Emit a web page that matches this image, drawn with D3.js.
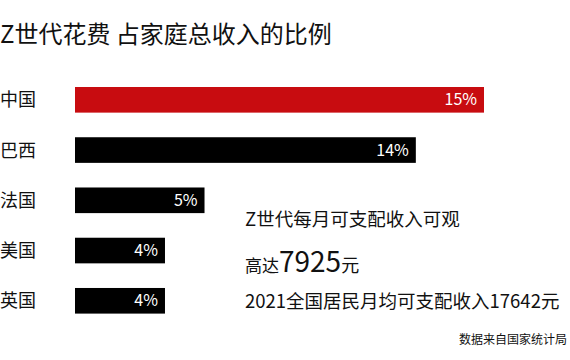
<!DOCTYPE html>
<html>
<head>
<meta charset="utf-8">
<script src="https://cdn.jsdelivr.net/npm/d3@7/dist/d3.min.js"></script>
<style>
  html, body { margin: 0; padding: 0; background: #fff; }
  svg { display: block; font-family: "Noto Sans CJK SC", "Noto Sans", sans-serif; }
</style>
</head>
<body>
<svg id="chart" width="570" height="360"></svg>
<script>
const title = "Z世代花费 占家庭总收入的比例";
const categories = ["中国", "巴西", "法国", "美国", "英国"];
const values = [15, 12.5, 4.75, 3.3, 3.3];
const valueLabels = ["15%", "14%", "5%", "4%", "4%"];
const highlight = "中国";
const noteLine1 = "Z世代每月可支配收入可观";
const notePrefix = "高达";
const noteNumber = "7925";
const noteUnit = "元";
const noteLine3 = "2021全国居民月均可支配收入17642元";
const source = "数据来自国家统计局";

const svg = d3.select("#chart");

const x = d3.scaleLinear().domain([0, 15]).range([75, 484]);
const y = d3.scaleBand().domain(categories).range([87, 313.6]).paddingInner(0.49).paddingOuter(0);

svg.append("text")
  .attr("x", 0).attr("y", 43)
  .attr("font-size", 24).attr("fill", "#111")
  .text(title);

const rows = categories.map((c, i) => ({ c, v: values[i], l: valueLabels[i] }));

svg.selectAll("rect.bar").data(rows).join("rect")
  .attr("class", "bar")
  .attr("x", x(0))
  .attr("y", d => y(d.c))
  .attr("width", d => x(d.v) - x(0))
  .attr("height", y.bandwidth())
  .attr("fill", d => d.c === highlight ? "#c80c10" : "#000");

svg.selectAll("text.val").data(rows).join("text")
  .attr("class", "val")
  .attr("x", d => x(d.v) - 7)
  .attr("y", d => y(d.c) + y.bandwidth() / 2)
  .attr("dy", "0.35em")
  .attr("text-anchor", "end")
  .attr("font-size", 16)
  .attr("fill", "#fff")
  .text(d => d.l);

svg.selectAll("text.cat").data(rows).join("text")
  .attr("class", "cat")
  .attr("x", 0)
  .attr("y", d => y(d.c) + y.bandwidth() / 2)
  .attr("dy", "0.36em")
  .attr("font-size", 18)
  .attr("fill", "#111")
  .text(d => d.c);

svg.append("text")
  .attr("x", 245).attr("y", 226)
  .attr("font-size", 18.5).attr("fill", "#111")
  .text(noteLine1);

const t2 = svg.append("text")
  .attr("x", 245).attr("y", 272)
  .attr("fill", "#111");
t2.append("tspan").attr("font-size", 17).text(notePrefix);
t2.append("tspan").attr("font-size", 28).text(noteNumber);
t2.append("tspan").attr("font-size", 18).text(noteUnit);

svg.append("text")
  .attr("x", 245).attr("y", 308)
  .attr("font-size", 18.5).attr("fill", "#111")
  .text(noteLine3);

svg.append("text")
  .attr("x", 567).attr("y", 344)
  .attr("text-anchor", "end")
  .attr("font-size", 12).attr("fill", "#111")
  .text(source);
</script>
</body>
</html>
